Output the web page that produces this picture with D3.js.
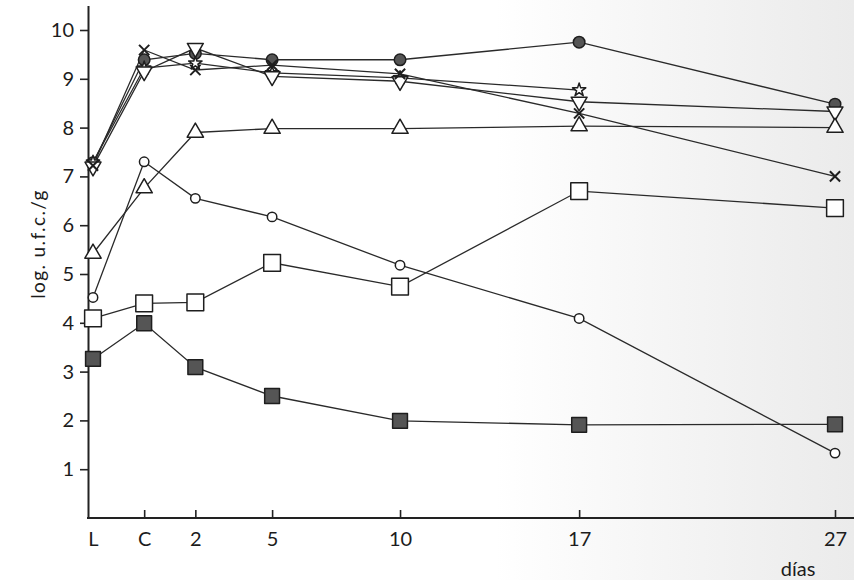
<!DOCTYPE html>
<html lang="es">
	<head>
		<meta charset="utf-8">
		<title>log. u.f.c./g frente a días</title>
		<script type="text/javascript" src="https://d3js.org/d3.v7.min.js"></script>
		<style type="text/css">
			body { margin: 0; background: #fff; }
			text { font-family: Lato, "Noto Sans", sans-serif; fill: #1c1c1c; }
		</style>
	</head>
	<body>
		<script type="text/javascript">

			//Size
			var w = 854;
			var h = 580;

			//Categories on the x axis and their day values
			var categories = ["L", "C", "2", "5", "10", "17", "27"];
			var days = [-2, 0, 2, 5, 10, 17, 27];
			var yTicks = [1, 2, 3, 4, 5, 6, 7, 8, 9, 10];

			//Series values (log u.f.c./g), one per category
			var filledCircle = [7.28, 9.39, 9.52, 9.39, 9.39, 9.75, 8.48];
			var crossX       = [7.22, 9.59, 9.18, 9.28, 9.10, 8.29, 7.00];
			var star         = [7.29, 9.22, 9.32, 9.12, 9.02, 8.77, null];
			var triDown      = [7.20, 9.15, 9.63, 9.05, 8.95, 8.53, 8.33];
			var triUp        = [5.42, 6.76, 7.90, 7.98, 7.98, 8.03, 8.00];
			var openCircle   = [4.52, 7.30, 6.55, 6.17, 5.18, 4.09, 1.33];
			var openSquare   = [4.09, 4.40, 4.42, 5.23, 4.74, 6.70, 6.35];
			var filledSquare = [3.26, 3.99, 3.09, 2.50, 1.99, 1.91, 1.92];

			var series = [
				{ values: filledCircle, type: d3.symbolCircle, size: 105, fill: "#555" },
				{ values: star, type: d3.symbolStar, size: 55, fill: "#fff" },
				{ values: triDown, type: d3.symbolTriangle, size: 110, fill: "#fff", rotate: 180 },
				{ values: crossX, type: d3.symbolTimes, size: 70, fill: "none" },
				{ values: triUp, type: d3.symbolTriangle, size: 115, fill: "#fff" },
				{ values: openCircle, type: d3.symbolCircle, size: 70, fill: "#fff" },
				{ values: openSquare, type: d3.symbolSquare, size: 280, fill: "#fff" },
				{ values: filledSquare, type: d3.symbolSquare, size: 220, fill: "#555" }
			];

			//Scales
			var xScale = d3.scaleLinear()
								 .domain([-2, 27])
								 .range([93, 835]);

			var yScale = d3.scaleLinear()
								 .domain([0, 10.5])
								 .range([518, 5.6]);

			var axisX = 88;

			//Create SVG element
			var svg = d3.select("body")
						.append("svg")
						.attr("width", w)
						.attr("height", h);

			//Greyish scanned page on the right
			var grad = svg.append("defs").append("linearGradient")
						.attr("id", "paper");
			grad.append("stop").attr("offset", "0.58").attr("stop-color", "#ffffff");
			grad.append("stop").attr("offset", "0.8").attr("stop-color", "#f4f4f4");
			grad.append("stop").attr("offset", "1").attr("stop-color", "#ebebeb");
			svg.append("rect")
			   .attr("width", w)
			   .attr("height", h)
			   .attr("fill", "url(#paper)");

			//Y axis
			var yAxis = d3.axisLeft(yScale)
						  .tickValues(yTicks)
						  .tickSize(8)
						  .tickSizeOuter(0)
						  .tickPadding(6);

			var gy = svg.append("g")
			   .attr("transform", "translate(" + axisX + ",0)")
			   .call(yAxis);
			gy.select(".domain").attr("stroke", "#222").attr("stroke-width", 2);
			gy.selectAll(".tick line").attr("stroke", "#222").attr("stroke-width", 1.6);
			gy.selectAll(".tick text")
			  .attr("font-size", "20px")
			  .attr("font-family", "Lato, sans-serif")
			  .attr("fill", "#1c1c1c");

			//X axis (ticks point up into the plot)
			var xAxis = d3.axisBottom(xScale)
						  .tickValues(days)
						  .tickFormat(function(d, i) { return categories[i]; })
						  .tickSize(-8)
						  .tickSizeOuter(0)
						  .tickPadding(14);

			var gx = svg.append("g")
			   .attr("transform", "translate(0," + yScale(0) + ")")
			   .call(xAxis);
			gx.select(".domain").remove();
			gx.selectAll(".tick line")
			  .attr("stroke", "#222")
			  .attr("stroke-width", 1.6)
			  .attr("display", function(d) { return d === days[0] ? "none" : null; });
			gx.selectAll(".tick text")
			  .attr("font-size", "20px")
			  .attr("font-family", "Lato, sans-serif")
			  .attr("fill", "#1c1c1c");
			gx.append("line")
			  .attr("x1", axisX - 1)
			  .attr("x2", w)
			  .attr("y1", 0)
			  .attr("y2", 0)
			  .attr("stroke", "#222")
			  .attr("stroke-width", 2);

			//Axis titles
			svg.append("text")
			   .text("log. u.f.c./g")
			   .attr("transform", "translate(45,244) rotate(-90)")
			   .attr("text-anchor", "middle")
			   .attr("font-size", "19px")
			   .attr("letter-spacing", "1.4px");

			svg.append("text")
			   .text("días")
			   .attr("x", 798)
			   .attr("y", 576)
			   .attr("text-anchor", "middle")
			   .attr("font-size", "20px");

			//Lines
			var line = d3.line()
						 .defined(function(d) { return d[1] != null; })
						 .x(function(d) { return xScale(d[0]); })
						 .y(function(d) { return yScale(d[1]); });

			series.forEach(function(s) {
				var pts = days.map(function(d, i) { return [d, s.values[i]]; });
				svg.append("path")
				   .datum(pts)
				   .attr("d", line)
				   .attr("fill", "none")
				   .attr("stroke", "#2a2a2a")
				   .attr("stroke-width", 1.3);
			});

			//Markers
			series.forEach(function(s) {
				var pts = days.map(function(d, i) { return [d, s.values[i]]; })
							  .filter(function(p) { return p[1] != null; });
				svg.append("g")
				   .selectAll("path")
				   .data(pts)
				   .enter()
				   .append("path")
				   .attr("d", d3.symbol().type(s.type).size(s.size))
				   .attr("transform", function(d) {
				   		return "translate(" + xScale(d[0]) + "," + yScale(d[1]) + ")" +
				   			(s.rotate ? " rotate(" + s.rotate + ")" : "");
				   })
				   .attr("fill", s.fill)
				   .attr("stroke", "#1e1e1e")
				   .attr("stroke-width", s.type === d3.symbolTimes ? 2 : 1.5)
				   .attr("stroke-linejoin", "round");
			});

		</script>
	</body>
</html>
